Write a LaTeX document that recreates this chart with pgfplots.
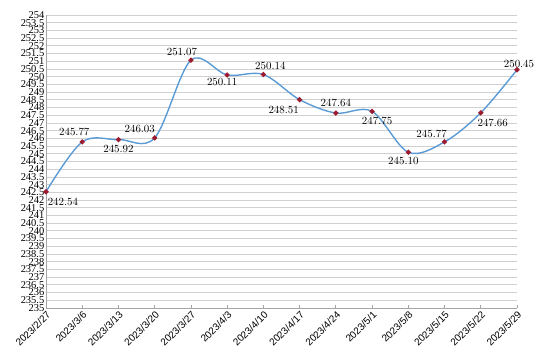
\documentclass[border=0pt]{standalone}
\usepackage{fontspec}
\setmainfont{Liberation Serif}
\newfontfamily\xlabfont{Liberation Sans}
\usepackage{pgfplots}
\usepackage{pgfplotstable}
\pgfplotsset{compat=1.18}
\definecolor{linec}{HTML}{5B9BD5}
\definecolor{markc}{HTML}{9B1B30}
\definecolor{gridc}{HTML}{D0D0D0}
\definecolor{axc}{HTML}{A6A6A6}
\pgfplotstableread{
x y dx dy
0 242.54 17 -10
1 245.77 -8 10
2 245.92 0 -9
3 246.03 -15 9
4 251.07 -9 8
5 250.11 -5 -7
6 250.14 7 9
7 248.51 -16 -10
8 247.64 0 10
9 247.75 5 -10
10 245.10 -5 -9
11 245.77 -13 8
12 247.66 12 -10
13 250.45 2 6
}\datatable
\begin{document}
\begin{tikzpicture}
\begin{axis}[
  scale only axis, width=471bp, height=293bp,
  at={(0,0)}, anchor=south west,
  xmin=0, xmax=13, ymin=235, ymax=254,
  xtick={0,...,13},
  xticklabels={2023/2/27,2023/3/6,2023/3/13,2023/3/20,2023/3/27,2023/4/3,2023/4/10,2023/4/17,2023/4/24,2023/5/1,2023/5/8,2023/5/15,2023/5/22,2023/5/29},
  ytick={235,235.5,...,254},
  x tick label style={rotate=45, anchor=north east, font=\xlabfont\fontsize{10}{10}\selectfont, inner sep=1.5bp},
  y tick label style={font=\fontsize{10.5}{10.5}\selectfont, inner sep=1.5bp},
  yticklabel style={/pgf/number format/.cd, fixed, precision=1, assume math mode=true},
  axis x line*=bottom, axis y line*=left,
  axis line style={axc, line width=0.8bp, -},
  ymajorgrids, grid style={gridc, line width=0.8bp},
  tick align=inside, major tick length=3bp,
  xtick style={axc, line width=0.8bp},
  ytick style={draw=none},
  clip=false,
]
\addplot[linec, line width=1.4bp, smooth, tension=0.55,
  mark=*, mark size=1.8bp, mark options={fill=markc, draw=markc},
  point meta=explicit,
  visualization depends on={\thisrow{dx} \as \dx},
  visualization depends on={\thisrow{dy} \as \dy},
  nodes near coords={\pgfmathprintnumber[fixed, fixed zerofill, precision=2]{\pgfplotspointmeta}},
  nodes near coords align={center},
  nodes near coords style={font=\fontsize{11}{11}\selectfont, text=black, anchor=center, xshift=\dx pt, yshift=\dy pt, inner sep=0pt},
] table[x=x, y=y, meta=y] {\datatable};
\end{axis}
\pgfresetboundingbox
\path (-46bp,-56bp) rectangle (500bp,308bp);
\end{tikzpicture}
\end{document}
